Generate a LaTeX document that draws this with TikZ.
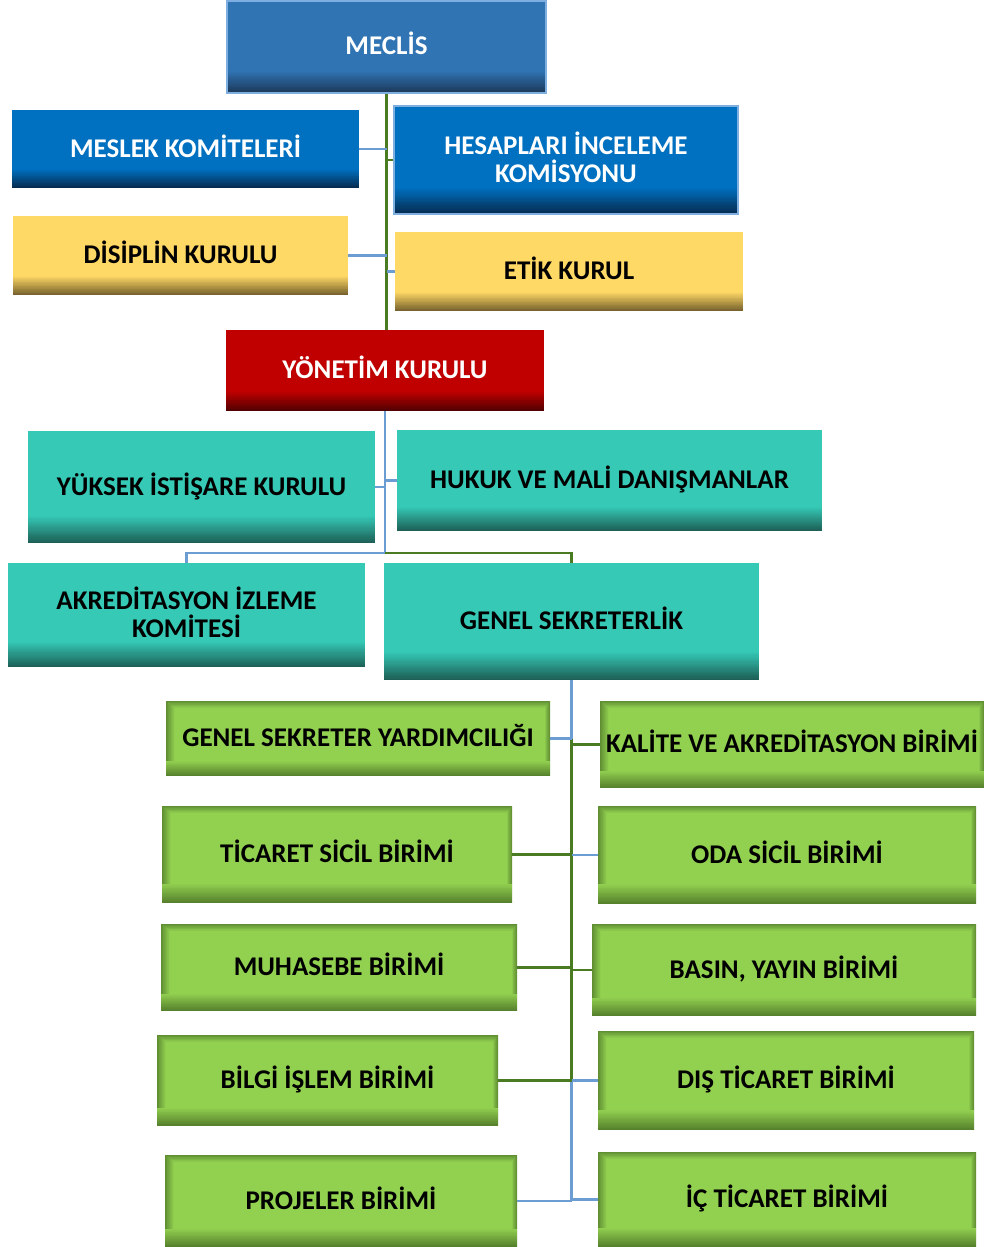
\documentclass[tikz,border=0pt]{standalone}
\usepackage{fontspec}
\setmainfont{Carlito}
\usetikzlibrary{calc}
\definecolor{meclisc}{HTML}{3074B4}
\definecolor{meclisd}{HTML}{1C3858}
\definecolor{bluec}{HTML}{0070C0}
\definecolor{blued}{HTML}{062B4E}
\definecolor{yelc}{HTML}{FFD966}
\definecolor{yeld}{HTML}{75602C}
\definecolor{redc}{HTML}{C00000}
\definecolor{redd}{HTML}{500000}
\definecolor{tealc}{HTML}{35C9B6}
\definecolor{teald}{HTML}{1D5E55}
\definecolor{greenc}{HTML}{92D050}
\definecolor{greend}{HTML}{557F2C}
\definecolor{lineblue}{HTML}{6C9DD2}
\definecolor{linegreen}{HTML}{4A7A22}
\definecolor{lightbord}{HTML}{7FAEE0}
% bottom band: main colour #1 -> dark colour #2 over fraction #3 of the height
\newcommand\orgvband[3]{%
  \foreach \i in {1,...,24}{%
    \pgfmathsetmacro\pc{(\i-0.5)*100/24}%
    \fill[#2!\pc!#1] ($(path picture bounding box.south west)!{#3*(1-(\i-1)/24)}!(path picture bounding box.north west)$)
      rectangle (path picture bounding box.south east);
  }}
% inner shadow at top, left and right edges
\newcommand\orgedges[3]{% main, dark, depth (pt)
  \foreach \i in {1,...,12}{%
    \pgfmathsetmacro\pc{(\i-0.5)*100/12*0.85}%
    \pgfmathsetmacro\dd{#3*(12-\i+1)/12}%
    \fill[#2!\pc!#1] (path picture bounding box.north west) rectangle ([xshift=\dd pt]path picture bounding box.south west);
    \fill[#2!\pc!#1] ([xshift=-0.6*\dd pt]path picture bounding box.north east) rectangle (path picture bounding box.south east);
    \fill[#2!\pc!#1] (path picture bounding box.north west) rectangle ([yshift=-0.8*\dd pt]path picture bounding box.north east);
  }}
\tikzset{
  orgbase/.style={rectangle, inner sep=2pt, align=center,
    font=\fontsize{27}{28}\selectfont\bfseries, text height=16pt, text depth=0pt},
  twoline/.style={text height=44pt, text depth=0pt},
  orgbox/.style n args={2}{orgbase, fill=#1,
    path picture={\orgvband{#1}{#2}{0.24}}},
  gbox/.style={orgbase, fill=greenc,
    path picture={\orgedges{greenc}{greend}{9}\orgvband{greenc}{greend}{0.2}}},
  bl/.style={draw=lineblue, line width=2.8pt},
  gr/.style={draw=linegreen, line width=2.8pt},
}
\begin{document}
\begin{tikzpicture}[x=1pt,y=-1pt]
\useasboundingbox (0,0) rectangle (984,1247);
% nodes
\node[orgbox={meclisc}{meclisd}, draw=lightbord, line width=2pt, text=white, minimum width=319pt, minimum height=92pt] (meclis) at (386.5,47) {MECLİS};
\node[orgbox={bluec}{blued}, text=white, minimum width=347pt, minimum height=78pt] (meslek) at (185.5,149) {MESLEK KOMİTELERİ};
\node[orgbox={bluec}{blued}, twoline, draw=lightbord, line width=2pt, text=white, minimum width=344pt, minimum height=108pt] (hesap) at (566,160) {HESAPLARI İNCELEME\\KOMİSYONU};
\node[orgbox={yelc}{yeld}, minimum width=335pt, minimum height=79pt] (disiplin) at (180.5,255.5) {DİSİPLİN KURULU};
\node[orgbox={yelc}{yeld}, minimum width=348pt, minimum height=79pt] (etik) at (569,271.5) {ETİK KURUL};
\node[orgbox={redc}{redd}, text=white, minimum width=318pt, minimum height=81pt] (yonetim) at (385,370.5) {YÖNETİM KURULU};
\node[orgbox={tealc}{teald}, minimum width=347pt, minimum height=112pt] (yuksek) at (201.5,487) {YÜKSEK İSTİŞARE KURULU};
\node[orgbox={tealc}{teald}, minimum width=425pt, minimum height=101pt] (hukuk) at (609.5,480.5) {HUKUK VE MALİ DANIŞMANLAR};
\node[orgbox={tealc}{teald}, twoline, minimum width=357pt, minimum height=104pt] (akred) at (186.5,615) {AKREDİTASYON İZLEME\\KOMİTESİ};
\node[orgbox={tealc}{teald}, minimum width=375pt, minimum height=117pt] (genel) at (571.5,621.5) {GENEL SEKRETERLİK};
\node[gbox, minimum width=384pt, minimum height=75pt] (gsy) at (358,738.5) {GENEL SEKRETER YARDIMCILIĞI};
\node[gbox, minimum width=384pt, minimum height=87pt] (kalite) at (792,744.5) {KALİTE VE AKREDİTASYON BİRİMİ};
\node[gbox, minimum width=350pt, minimum height=97pt] (ticaret) at (337,854.5) {TİCARET SİCİL BİRİMİ};
\node[gbox, minimum width=378pt, minimum height=98pt] (oda) at (787,855) {ODA SİCİL BİRİMİ};
\node[gbox, minimum width=356pt, minimum height=87pt] (muhasebe) at (339,967.5) {MUHASEBE BİRİMİ};
\node[gbox, minimum width=384pt, minimum height=92pt] (basin) at (784,970) {BASIN, YAYIN BİRİMİ};
\node[gbox, minimum width=341pt, minimum height=91pt] (bilgi) at (327.5,1080.5) {BİLGİ İŞLEM BİRİMİ};
\node[gbox, minimum width=376pt, minimum height=99pt] (dis) at (786,1080.5) {DIŞ TİCARET BİRİMİ};
\node[gbox, minimum width=352pt, minimum height=92pt] (projeler) at (341,1201) {PROJELER BİRİMİ};
\node[gbox, minimum width=378pt, minimum height=95pt] (ic) at (787,1199.5) {İÇ TİCARET BİRİMİ};
% top connectors
\draw[gr] (meclis.south) -- (meclis.south |- yonetim.north);
\draw[bl] (meslek.east) -- (meslek.east -| meclis.south);
\draw[gr] (hesap.west) -- (hesap.west -| meclis.south);
\draw[bl] (disiplin.east) -- (disiplin.east -| meclis.south);
\draw[bl] (etik.west) -- (etik.west -| meclis.south);
% middle connectors
\coordinate (yj) at (385,553);
\draw[bl] (yonetim.south) -- (yj);
\draw[bl] (yuksek.east) -- (yuksek.east -| yj);
\draw[bl] (hukuk.west) -- (hukuk.west -| yj);
\draw[bl] (yj) -| (akred.north);
\draw[gr] (yj) -| (genel.north);
% lower trunk
\draw[bl] (genel.south) -- (genel.south |- gsy.east);
\draw[gr] (genel.south |- gsy.east) -- (genel.south |- bilgi.east);
\draw[bl] (genel.south |- bilgi.east) -- (genel.south |- projeler.east);
\draw[bl] (gsy.east) -- (gsy.east -| genel.south);
\draw[gr] (kalite.west) -- (kalite.west -| genel.south);
\draw[gr] (ticaret.east) -- (ticaret.east -| genel.south);
\draw[bl] (oda.west) -- (oda.west -| genel.south);
\draw[gr] (muhasebe.east) -- (muhasebe.east -| genel.south);
\draw[gr] (basin.west) -- (basin.west -| genel.south);
\draw[gr] (bilgi.east) -- (bilgi.east -| genel.south);
\draw[bl] (dis.west) -- (dis.west -| genel.south);
\draw[bl] (projeler.east) -- (projeler.east -| genel.south);
\draw[bl] (ic.west) -- (ic.west -| genel.south);
\end{tikzpicture}
\end{document}
